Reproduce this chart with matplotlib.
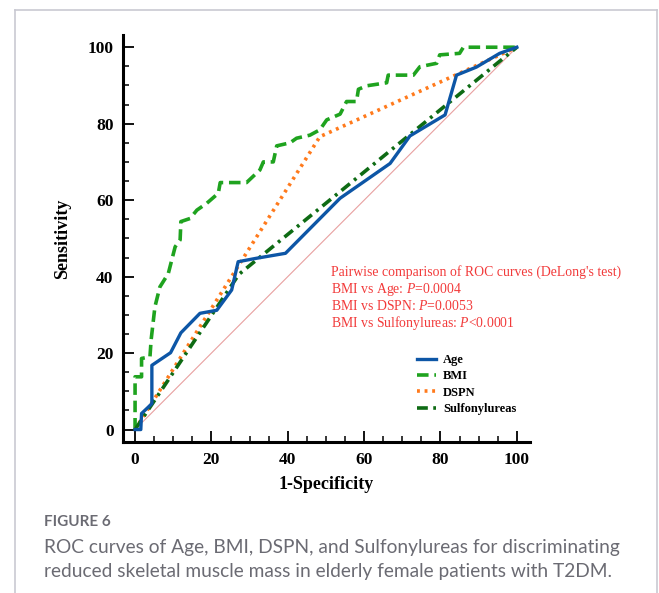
import matplotlib.pyplot as plt
from matplotlib.lines import Line2D
from matplotlib.ticker import MultipleLocator

# ROC points (1-specificity, sensitivity)
age_x = [0, 1.5, 1.7, 3.5, 4.4, 4.4, 9.3, 12, 17, 21.4, 25.3, 26.2, 27, 31.8, 39.4,
         53.7, 66.8, 72, 81.2, 84.2, 89.4, 95.5, 100]
age_y = [0, 0, 4.2, 5.9, 6.8, 16.8, 20.1, 25.3, 30.4, 31.2, 36.5, 40.4, 43.9, 44.8, 46.1,
         60.5, 69.6, 76.8, 82.3, 92.7, 94.8, 98.4, 100]

bmi_x = [0, 0, 1.7, 1.7, 3.9, 4.2, 5.2, 6.5, 8.7, 10.5, 11.8, 12.0, 14.4, 16.2, 18.8,
         21.8, 22.3, 29.2, 32.7, 33.6, 36.2, 37.1, 40.6, 42.3, 45.8, 48.4, 50.2, 53.7,
         55.4, 58.0, 58.5, 60.6, 65.9, 66.3, 72.9, 74.6, 79.0, 79.8, 85.0, 86.0, 100]
bmi_y = [0, 13.8, 13.8, 18.6, 19.0, 23.4, 32.1, 37.3, 40.8, 47.8, 49.6, 54.4, 55.2, 57.4,
         59.2, 61.8, 64.6, 64.6, 67.9, 70.0, 70.0, 74.2, 75.0, 76.2, 77.0, 78.4, 81.0,
         82.5, 85.8, 85.8, 89.0, 89.9, 90.7, 92.7, 92.7, 94.9, 95.8, 98.0, 98.4, 100, 100]

dspn_x = [0, 48.4, 100]
dspn_y = [0, 76.6, 100]

sulf_x = [0, 27.2, 100]
sulf_y = [0, 40.6, 100]

ticks = [0, 20, 40, 60, 80, 100]
notes = ["Pairwise comparison of ROC curves (DeLong's test)",
         "BMI vs Age: $\\mathit{P}$=0.0004",
         "BMI vs DSPN: $\\mathit{P}$=0.0053",
         "BMI vs Sulfonylureas: $\\mathit{P}$<0.0001"]
caption = ["ROC curves of Age, BMI, DSPN, and Sulfonylureas for discriminating",
           "reduced skeletal muscle mass in elderly female patients with T2DM."]

plt.rcParams['mathtext.fontset'] = 'custom'
plt.rcParams['mathtext.it'] = 'Liberation Serif:italic'
plt.rcParams['mathtext.rm'] = 'Liberation Serif'

fig = plt.figure(figsize=(6.59, 5.93), dpi=100)
ax = fig.add_axes([0.187, 0.255, 0.617, 0.686])

ax.plot([0, 100], [0, 100], color='#e8a0a0', lw=0.8, zorder=1)
ax.plot(age_x, age_y, color='#0d56a6', lw=2.4, label='Age', zorder=3)
ax.plot(bmi_x, bmi_y, color='#1fa31f', lw=2.6, ls=(0, (3.2, 1.6)), label='BMI', zorder=2)
ax.plot(dspn_x, dspn_y, color='#ff7a1c', lw=2.6, ls=(0, (0.8, 1.3)), label='DSPN', zorder=2)
ax.plot(sulf_x, sulf_y, color='#0e6b14', lw=2.6, ls=(0, (3, 1.5, 0.8, 1.5)),
        label='Sulfonylureas', zorder=2)

ax.set_xlim(-3.1, 103.4)
ax.set_ylim(-3.2, 103.2)
ax.set_xticks(ticks)
ax.set_yticks(ticks)
ax.xaxis.set_minor_locator(MultipleLocator(5))
ax.yaxis.set_minor_locator(MultipleLocator(5))
for s in ['top', 'right']:
    ax.spines[s].set_visible(False)
for s in ['left', 'bottom']:
    ax.spines[s].set_linewidth(2.2)
ax.tick_params(which='major', direction='in', length=8, width=1.3, pad=7)
ax.tick_params(which='minor', direction='in', length=4.5, width=1.1)
for lab in ax.get_xticklabels() + ax.get_yticklabels():
    lab.set_family('Liberation Serif')
    lab.set_fontweight('bold')
    lab.set_fontsize(12.5)

ax.set_xlabel('1-Specificity', family='Liberation Serif', fontweight='bold',
              fontsize=13, labelpad=6)
ax.set_ylabel('Sensitivity', family='Liberation Serif', fontweight='bold',
              fontsize=13, labelpad=12)

for i, line in enumerate(notes):
    fig.text(331 / 659, 1 - (272 + 17 * i) / 593, line, color='#f23a3a',
             family='Liberation Serif', fontsize=9.9, va='center', ha='left')

leg = ax.legend(loc='upper left', frameon=False,
                prop={'family': 'Liberation Serif', 'weight': 'bold', 'size': 9},
                handlelength=1.5, handletextpad=0.6, labelspacing=0.35,
                borderaxespad=0)
leg.set_bbox_to_anchor((412 / 659, 1 - 349 / 593), transform=fig.transFigure)

# page frame
frame = '#c9c9d2'
fig.add_artist(Line2D([15 / 659, 15 / 659], [0, 1 - 10 / 593], color=frame, lw=1.2))
fig.add_artist(Line2D([657 / 659, 657 / 659], [0, 1 - 10 / 593], color=frame, lw=1.2))
fig.add_artist(Line2D([15 / 659, 657 / 659], [1 - 10 / 593, 1 - 10 / 593], color=frame, lw=1.2))

fig.text(44 / 659, 1 - 522 / 593, 'FIGURE 6', color='#6b6b73', family='Lato',
         fontweight='bold', fontsize=11, va='center')
for i, line in enumerate(caption):
    fig.text(44 / 659, 1 - (547 + 25 * i) / 593, line, color='#6b6b73', family='Lato',
             fontsize=13.75, va='center')

fig.savefig('out.png', dpi=100)
